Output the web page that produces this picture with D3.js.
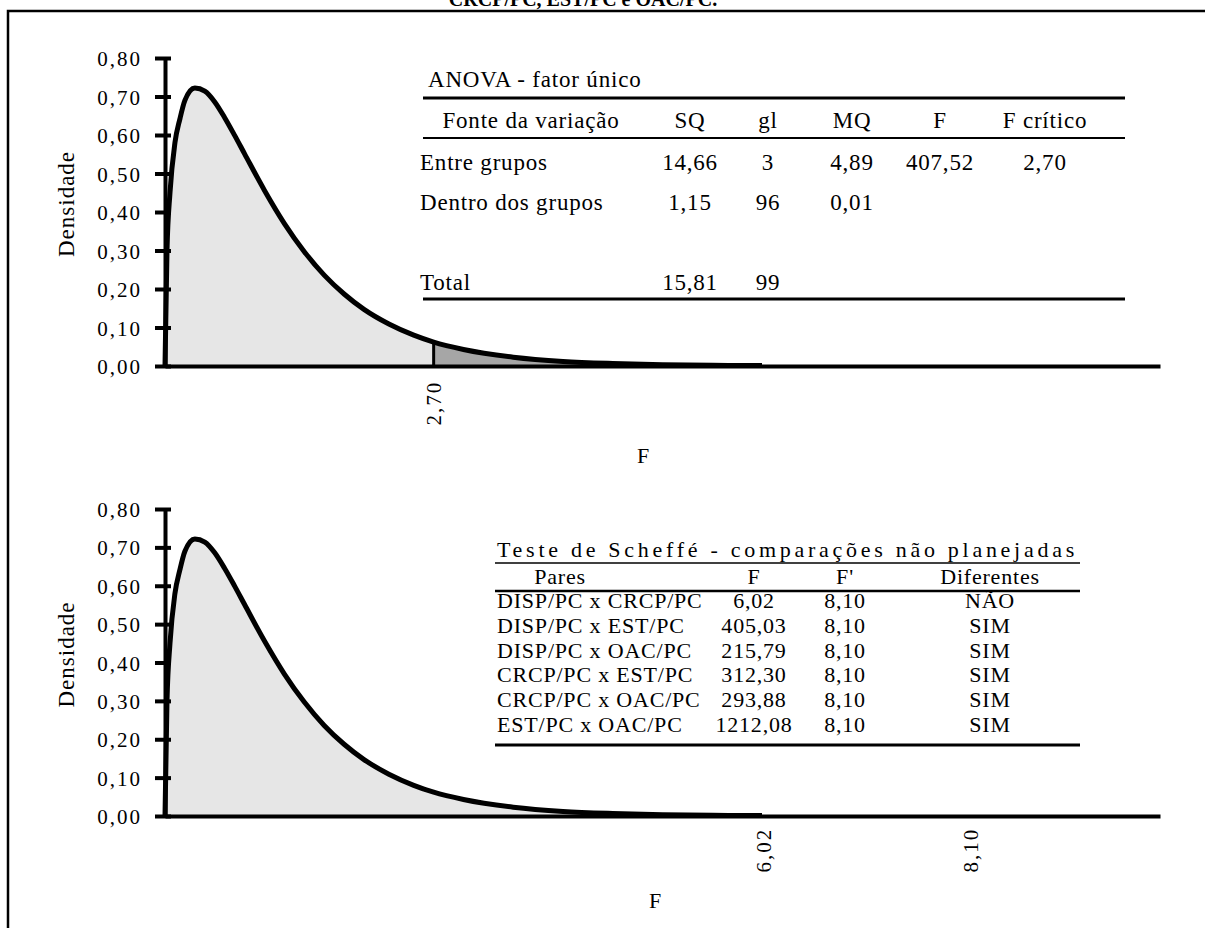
<!DOCTYPE html>
<html>
<head>
<meta charset="utf-8">
<script src="https://cdn.jsdelivr.net/npm/d3@7"></script>
<style>
  body { margin: 0; background: #fff; }
  svg text { font-family: "Liberation Serif", "Times New Roman", serif; fill: #000; }
</style>
</head>
<body>
<div id="chart"></div>
<script>
//************************************************************************
// data
//************************************************************************
var fValues = [0, 0.02, 0.05, 0.1, 0.15, 0.2, 0.3, 0.4, 0.5, 0.6, 0.7, 0.8, 1.0, 1.2, 1.4,
               1.6, 1.8, 2.0, 2.25, 2.5, 2.7, 3.0, 3.5, 4.0, 4.5, 5.0, 5.5, 6.0];
var density = [0, 0.30, 0.45, 0.58, 0.642, 0.69, 0.722, 0.714, 0.686, 0.645, 0.599, 0.551, 0.456, 0.370, 0.297,
               0.236, 0.187, 0.147, 0.109, 0.080, 0.062, 0.043, 0.023, 0.012, 0.0066, 0.0035, 0.0019, 0.0010];
var yTicks = [0, 0.1, 0.2, 0.3, 0.4, 0.5, 0.6, 0.7, 0.8];
var fCritico = 2.70;
var scheffeMarks = [6.02, 8.10];

var anovaTitle = "ANOVA - fator único";
var anovaHeader = ["Fonte da variação", "SQ", "gl", "MQ", "F", "F crítico"];
var anovaFonte = ["Entre grupos", "Dentro dos grupos", "", "Total"];
var anovaSQ = ["14,66", "1,15", "", "15,81"];
var anovaGl = ["3", "96", "", "99"];
var anovaMQ = ["4,89", "0,01", "", ""];
var anovaF = ["407,52", "", "", ""];
var anovaFcrit = ["2,70", "", "", ""];

var scheffeTitle = "Teste de Scheffé - comparações não planejadas";
var scheffeHeader = ["Pares", "F", "F'", "Diferentes"];
var scheffePares = ["DISP/PC x CRCP/PC", "DISP/PC x EST/PC", "DISP/PC x OAC/PC",
                    "CRCP/PC x EST/PC", "CRCP/PC x OAC/PC", "EST/PC x OAC/PC"];
var scheffeF = [6.02, 405.03, 215.79, 312.30, 293.88, 1212.08];
var scheffeFlinha = [8.10, 8.10, 8.10, 8.10, 8.10, 8.10];
var scheffeDif = ["NÃO", "SIM", "SIM", "SIM", "SIM", "SIM"];

var pts = fValues.map((f, i) => ({ f: f, d: density[i] }));

//************************************************************************
// svg + locale
//************************************************************************
var svgWidth = 1205;
var svgHeight = 928;

var br = d3.formatLocale({ decimal: ",", thousands: ".", grouping: [3], currency: ["R$", ""] });
var fmt = br.format(".2f");

var svg = d3.select("#chart")
  .append("svg")
  .attr("width", svgWidth)
  .attr("height", svgHeight);

// frame and cut-off caption
svg.append("path")
  .attr("d", "M8,928V11H1205")
  .attr("fill", "none")
  .attr("stroke", "#000")
  .attr("stroke-width", 2.5);

svg.append("text")
  .attr("x", 583)
  .attr("y", 6)
  .attr("text-anchor", "middle")
  .style("font-weight", "bold")
  .style("font-size", "20px")
  .text("CRCP/PC, EST/PC e OAC/PC.");

//************************************************************************
// one density panel
//************************************************************************
function drawPanel(top, bottom, opts) {
  var x = d3.scaleLinear().domain([0, 10]).range([165, 1160]);
  var y = d3.scaleLinear().domain([0, 0.8]).range([bottom, top]);
  var g = svg.append("g");

  var area = d3.area()
    .x(d => x(d.f))
    .y0(y(0))
    .y1(d => y(d.d))
    .curve(d3.curveMonotoneX);

  var line = d3.line()
    .x(d => x(d.f))
    .y(d => y(d.d))
    .curve(d3.curveMonotoneX);

  if (opts.crit != null) {
    g.append("path").datum(pts.filter(d => d.f <= opts.crit))
      .attr("d", area).attr("fill", "#e6e6e6");
    g.append("path").datum(pts.filter(d => d.f >= opts.crit))
      .attr("d", area).attr("fill", "#a6a6a6");
    var dc = density[fValues.indexOf(opts.crit)];
    g.append("line")
      .attr("x1", x(opts.crit)).attr("x2", x(opts.crit))
      .attr("y1", y(0)).attr("y2", y(dc))
      .attr("stroke", "#000").attr("stroke-width", 3);
  } else {
    g.append("path").datum(pts)
      .attr("d", area).attr("fill", "#e6e6e6");
  }

  g.append("path").datum(pts)
    .attr("d", line)
    .attr("fill", "none")
    .attr("stroke", "#000")
    .attr("stroke-width", 5)
    .attr("stroke-linejoin", "round");

  // x axis (line only)
  g.append("g")
    .attr("transform", `translate(0, ${y(0)})`)
    .call(d3.axisBottom(x).ticks(0).tickSizeOuter(0))
    .call(s => s.select(".domain").attr("stroke-width", 4));

  // y axis
  g.append("g")
    .attr("transform", `translate(${x(0)}, 0)`)
    .call(d3.axisLeft(y).tickValues(yTicks).tickFormat(fmt).tickSizeOuter(0).tickSizeInner(10).tickPadding(13))
    .call(s => s.select(".domain").attr("stroke-width", 4))
    .call(s => s.selectAll(".tick line").attr("x1", 6).attr("x2", -10).attr("stroke-width", 4))
    .call(s => s.selectAll(".tick text")
      .attr("dy", "0.36em")
      .style("font-size", "21px")
      .style("letter-spacing", "2px")
      .attr("font-family", null));

  // rotated marks under the x axis
  opts.marks.forEach(m => {
    g.append("text")
      .attr("transform", `translate(${x(m)}, ${y(0) + opts.markOff}) rotate(-90)`)
      .attr("text-anchor", "middle")
      .attr("dy", "0.35em")
      .style("font-size", "21px")
      .style("letter-spacing", "2px")
      .text(fmt(m));
  });

  g.append("text")
    .attr("x", opts.fx)
    .attr("y", opts.fy)
    .attr("text-anchor", "middle")
    .style("font-size", "22px")
    .text("F");

  g.append("text")
    .attr("transform", `translate(66, ${(top + bottom) / 2 - 8}) rotate(-90)`)
    .attr("text-anchor", "middle")
    .attr("dy", "0.35em")
    .style("font-size", "23px")
    .style("letter-spacing", "1px")
    .text("Densidade");
}

drawPanel(58, 366, { crit: fCritico, marks: [fCritico], markOff: 37, fx: 643, fy: 463 });
drawPanel(509, 816, { crit: null, marks: scheffeMarks, markOff: 34, fx: 655, fy: 908 });

//************************************************************************
// ANOVA table
//************************************************************************
var t1 = svg.append("g").style("font-size", "23px").style("letter-spacing", "0.8px");
var t1cols = [null, 690, 768, 852, 940, 1045];
var t1rows = d3.scalePoint().domain(d3.range(anovaFonte.length)).range([170, 290]);

t1.append("text").attr("x", 428).attr("y", 87).text(anovaTitle);
t1.append("line").attr("x1", 423).attr("x2", 1125).attr("y1", 98).attr("y2", 98)
  .attr("stroke", "#000").attr("stroke-width", 3);
t1.append("line").attr("x1", 423).attr("x2", 1125).attr("y1", 138).attr("y2", 138)
  .attr("stroke", "#000").attr("stroke-width", 2);
t1.append("line").attr("x1", 423).attr("x2", 1125).attr("y1", 299).attr("y2", 299)
  .attr("stroke", "#000").attr("stroke-width", 3);

anovaHeader.forEach((h, i) => {
  t1.append("text")
    .attr("x", i == 0 ? 531 : t1cols[i])
    .attr("y", 128)
    .attr("text-anchor", "middle")
    .text(h);
});

var t1data = [anovaSQ, anovaGl, anovaMQ, anovaF, anovaFcrit];
anovaFonte.forEach((f, r) => {
  t1.append("text").attr("x", 420).attr("y", t1rows(r)).text(f);
  t1data.forEach((col, c) => {
    t1.append("text")
      .attr("x", t1cols[c + 1])
      .attr("y", t1rows(r))
      .attr("text-anchor", "middle")
      .text(col[r]);
  });
});

//************************************************************************
// Scheffé table
//************************************************************************
var t2 = svg.append("g").style("font-size", "22px").style("letter-spacing", "0.8px");
var t2cols = [560, 754, 845, 990];
var t2rows = d3.scalePoint().domain(d3.range(scheffePares.length)).range([608, 732]);

t2.append("text").attr("x", 497).attr("y", 557)
  .attr("textLength", 578).attr("lengthAdjust", "spacing")
  .text(scheffeTitle);
t2.append("line").attr("x1", 495).attr("x2", 1080).attr("y1", 563).attr("y2", 563)
  .attr("stroke", "#000").attr("stroke-width", 1.5);
t2.append("line").attr("x1", 495).attr("x2", 1080).attr("y1", 591).attr("y2", 591)
  .attr("stroke", "#000").attr("stroke-width", 2.5);
t2.append("line").attr("x1", 495).attr("x2", 1080).attr("y1", 745).attr("y2", 745)
  .attr("stroke", "#000").attr("stroke-width", 3);

scheffeHeader.forEach((h, i) => {
  t2.append("text").attr("x", t2cols[i]).attr("y", 584).attr("text-anchor", "middle").text(h);
});

scheffePares.forEach((p, r) => {
  t2.append("text").attr("x", 497).attr("y", t2rows(r)).text(p);
  t2.append("text").attr("x", t2cols[1]).attr("y", t2rows(r)).attr("text-anchor", "middle").text(fmt(scheffeF[r]));
  t2.append("text").attr("x", t2cols[2]).attr("y", t2rows(r)).attr("text-anchor", "middle").text(fmt(scheffeFlinha[r]));
  t2.append("text").attr("x", t2cols[3]).attr("y", t2rows(r)).attr("text-anchor", "middle").text(scheffeDif[r]);
});
</script>
</body>
</html>
